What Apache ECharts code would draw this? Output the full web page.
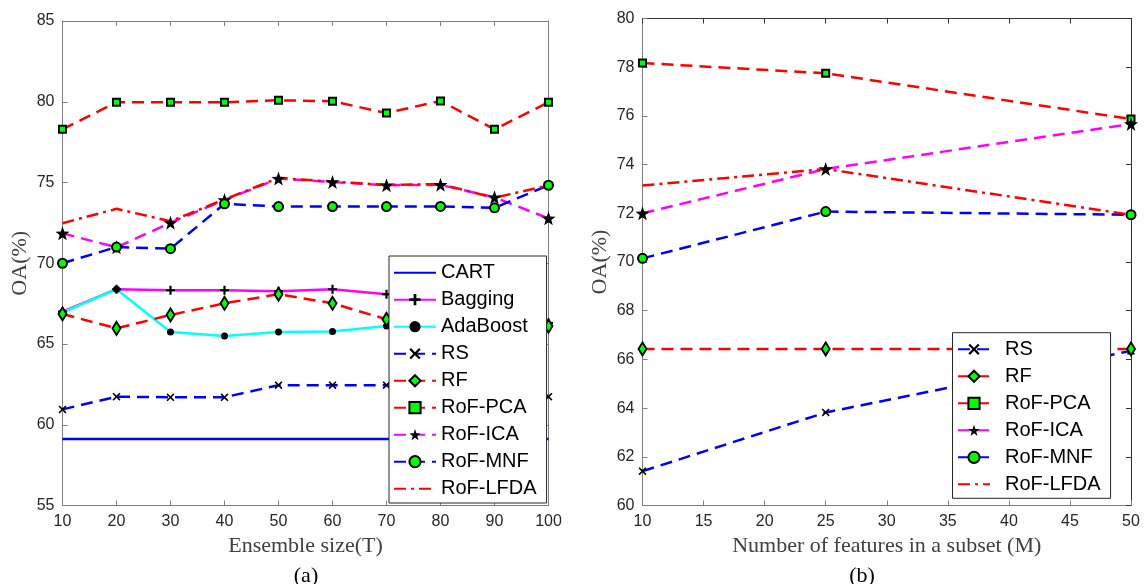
<!DOCTYPE html>
<html><head><meta charset="utf-8">
<script src="https://cdn.jsdelivr.net/npm/echarts@6/dist/echarts.min.js"></script>
<style>html,body{margin:0;padding:0;background:#fff}#c{width:1145px;height:584px}</style>
</head><body><div id="c"></div>
<script>
// ---------- data: (a) OA vs ensemble size ----------
const ensembleSizes = [10, 20, 30, 40, 50, 60, 70, 80, 90, 100];
const cartOA     = [59.12, 59.12, 59.12, 59.12, 59.12, 59.12, 59.12, 59.12, 59.12, 59.12];
const baggingOA  = [67.0, 68.39, 68.33, 68.33, 68.26, 68.39, 68.08, 67.9, 67.0, 66.3];
const adaboostOA = [66.95, 68.39, 65.74, 65.49, 65.74, 65.78, 66.11, 66.2, 66.2, 66.2];
const rsOA_a     = [60.95, 61.74, 61.7, 61.7, 62.45, 62.45, 62.45, 62.3, 62.0, 61.74];
const rfOA_a     = [66.86, 65.97, 66.8, 67.52, 68.08, 67.52, 66.53, 66.4, 66.2, 66.11];
const pcaOA_a    = [78.29, 79.97, 79.97, 79.97, 80.09, 80.03, 79.30, 80.05, 78.29, 79.97];
const icaOA_a    = [71.85, 70.99, 72.51, 73.92, 75.24, 75.03, 74.83, 74.86, 74.08, 72.78];
const mnfOA_a    = [70.0, 71.0, 70.9, 73.68, 73.51, 73.51, 73.51, 73.52, 73.43, 74.83];
const lfdaOA_a   = [72.48, 73.37, 72.6, 73.95, 75.28, 75.05, 74.85, 74.9, 74.05, 74.83];

// ---------- data: (b) OA vs number of features ----------
const featureCounts = [10, 25, 50];
const rsOA_b   = [61.41, 63.82, 66.35];
const rfOA_b   = [66.43, 66.43, 66.43];
const pcaOA_b  = [78.17, 77.75, 75.87];
const icaOA_b  = [72.0, 73.82, 75.67];
const mnfOA_b  = [70.15, 72.07, 71.94];
const lfdaOA_b = [73.14, 73.82, 71.94];

// ---------- tick settings ----------
const xTicksA = {min: 10, max: 100, interval: 10};
const yTicksA = {min: 55, max: 85, interval: 5};
const xTicksB = {min: 10, max: 50, interval: 5};
const yTicksB = {min: 60, max: 80, interval: 2};

const BLUE = '#0000ff', RED = '#ff0000', MAG = '#ff00ff', CYAN = '#00ffff', GREEN = '#00ff00';
const DASH = [12, 7], DASHDOT = [12, 5, 3, 5];
const STAR = 'path://M0,-10L2.35,-3.24L9.51,-3.09L3.8,1.24L5.88,8.09L0,4L-5.88,8.09L-3.8,1.24L-9.51,-3.09L-2.35,-3.24Z';
const PLUS = 'path://M-1.2,-5L1.2,-5L1.2,-1.2L5,-1.2L5,1.2L1.2,1.2L1.2,5L-1.2,5L-1.2,1.2L-5,1.2L-5,-1.2L-1.2,-1.2Z';
const CROSS = 'path://M-3.6,-5L0,-1.4L3.6,-5L5,-3.6L1.4,0L5,3.6L3.6,5L0,1.4L-3.6,5L-5,3.6L-1.4,0L-5,-3.6Z';

const styles = {
  'CART':     {line: BLUE, type: 'solid', symbol: 'none'},
  'Bagging':  {line: MAG, type: 'solid', symbol: PLUS, size: 9, fill: '#000', bw: 0},
  'AdaBoost': {line: CYAN, type: 'solid', symbol: 'circle', size: 7, fill: '#000', bw: 0},
  'RS':       {line: BLUE, type: DASH, symbol: CROSS, size: 8, fill: '#000', bw: 0},
  'RF':       {line: RED, type: DASH, symbol: 'diamond', size: [8, 13], fill: GREEN, bw: 2},
  'RoF-PCA':  {line: RED, type: DASH, symbol: 'rect', size: 7, fill: GREEN, bw: 2},
  'RoF-ICA':  {line: MAG, type: DASH, symbol: STAR, size: 14, fill: '#000', bw: 0},
  'RoF-MNF':  {line: BLUE, type: DASH, symbol: 'circle', size: 9, fill: GREEN, bw: 2},
  'RoF-LFDA': {line: RED, type: DASHDOT, symbol: 'none'}
};

function mk(name, xs, ys, axisIdx) {
  const s = styles[name];
  return {
    type: 'line', name: name,
    xAxisIndex: axisIdx, yAxisIndex: axisIdx,
    data: xs.map((x, i) => [x, ys[i]]),
    symbol: s.symbol, symbolSize: s.size || 1, showSymbol: s.symbol !== 'none',
    lineStyle: {color: s.line, width: 2.5, type: s.type},
    itemStyle: {color: s.fill || s.line, borderColor: '#000', borderWidth: s.bw || 0, opacity: 1},
    emphasis: {disabled: true}, animation: false, silent: true
  };
}

const serif = '"Liberation Serif", "Times New Roman", serif';
const sans = '"Liberation Sans", Arial, Helvetica, sans-serif';
const AX = '#7f7f7f', TXT = '#262626';

function mainX(grid, t, name, axColor) {
  return {type: 'value', gridIndex: grid, position: 'bottom', min: t.min, max: t.max, interval: t.interval,
    name: name, nameLocation: 'middle', nameGap: 30,
    nameTextStyle: {fontFamily: serif, fontSize: 22, color: '#404040'},
    axisLine: {show: true, onZero: false, lineStyle: {color: axColor, width: 1}},
    axisTick: {show: true, inside: true, length: 5, lineStyle: {color: axColor}},
    axisLabel: {fontFamily: sans, fontSize: 16, color: TXT, margin: 8},
    splitLine: {show: false}};
}
function mirrorX(grid, t, axColor) {
  return {type: 'value', gridIndex: grid, position: 'top', min: t.min, max: t.max, interval: t.interval,
    axisLine: {show: true, onZero: false, lineStyle: {color: axColor, width: 1}},
    axisTick: {show: true, inside: true, length: 5, lineStyle: {color: axColor}},
    axisLabel: {show: false}, splitLine: {show: false}};
}
function mainY(grid, t, axColor) {
  return {type: 'value', gridIndex: grid, position: 'left', min: t.min, max: t.max, interval: t.interval,
    name: 'OA(%)', nameLocation: 'middle', nameGap: 31,
    nameTextStyle: {fontFamily: serif, fontSize: 22, color: '#404040'},
    axisLine: {show: true, onZero: false, lineStyle: {color: axColor, width: 1}},
    axisTick: {show: true, inside: true, length: 5, lineStyle: {color: axColor}},
    axisLabel: {fontFamily: sans, fontSize: 16, color: TXT, margin: 8},
    splitLine: {show: false}};
}
function mirrorY(grid, t, axColor) {
  return {type: 'value', gridIndex: grid, position: 'right', min: t.min, max: t.max, interval: t.interval,
    axisLine: {show: true, onZero: false, lineStyle: {color: axColor, width: 1}},
    axisTick: {show: true, inside: true, length: 5, lineStyle: {color: axColor}},
    axisLabel: {show: false}, splitLine: {show: false}};
}

const namesA = ['CART', 'Bagging', 'AdaBoost', 'RS', 'RF', 'RoF-PCA', 'RoF-ICA', 'RoF-MNF', 'RoF-LFDA'];
const namesB = ['RS', 'RF', 'RoF-PCA', 'RoF-ICA', 'RoF-MNF', 'RoF-LFDA'];
const valuesA = [cartOA, baggingOA, adaboostOA, rsOA_a, rfOA_a, pcaOA_a, icaOA_a, mnfOA_a, lfdaOA_a];
const valuesB = [rsOA_b, rfOA_b, pcaOA_b, icaOA_b, mnfOA_b, lfdaOA_b];

const series = [];
namesA.forEach((n, i) => series.push(mk(n, ensembleSizes, valuesA[i], 0)));
namesB.forEach((n, i) => series.push(mk(n, featureCounts, valuesB[i], 2)));

function legendData(names) {
  return names.map(n => styles[n].symbol === 'none' ? {name: n, itemStyle: {opacity: 0}} : {name: n});
}

const chart = echarts.init(document.getElementById('c'), null, {renderer: 'canvas'});
chart.setOption({
  animation: false,
  backgroundColor: '#fff',
  grid: [
    {left: 62.5, top: 21, width: 486, height: 484.5},
    {left: 642.5, top: 18.5, width: 488.5, height: 487}
  ],
  xAxis: [mainX(0, xTicksA, 'Ensemble size(T)', AX), mirrorX(0, xTicksA, AX),
          mainX(1, xTicksB, 'Number of features in a subset (M)', AX), mirrorX(1, xTicksB, '#333')],
  yAxis: [mainY(0, yTicksA, AX), mirrorY(0, yTicksA, AX),
          mainY(1, yTicksB, AX), mirrorY(1, yTicksB, '#333')],
  legend: [
    {data: legendData(namesA), orient: 'vertical', left: 389, top: 256,
     padding: [6.7, 10, 4.3, 4], itemGap: 7, itemWidth: 42, itemHeight: 14,
     borderColor: '#262626', borderWidth: 1, backgroundColor: '#fff', selectedMode: false,
     textStyle: {fontFamily: sans, fontSize: 20, color: '#000', lineHeight: 20}},
    {data: legendData(namesB), orient: 'vertical', left: 952.5, top: 332.7,
     padding: [6.6, 10, 4, 4.5], itemGap: 7, itemWidth: 32, itemHeight: 14,
     borderColor: '#262626', borderWidth: 1, backgroundColor: '#fff', selectedMode: false,
     textStyle: {fontFamily: sans, fontSize: 20, color: '#000', lineHeight: 20, padding: [0, 0, 0, 10]}}
  ],
  graphic: [
    {type: 'text', x: 306, y: 576, style: {text: '(a)', font: '22px ' + serif, fill: '#000', textAlign: 'center', textVerticalAlign: 'middle'}},
    {type: 'text', x: 862, y: 576, style: {text: '(b)', font: '22px ' + serif, fill: '#000', textAlign: 'center', textVerticalAlign: 'middle'}}
  ],
  series: series
});
</script>
</body></html>
